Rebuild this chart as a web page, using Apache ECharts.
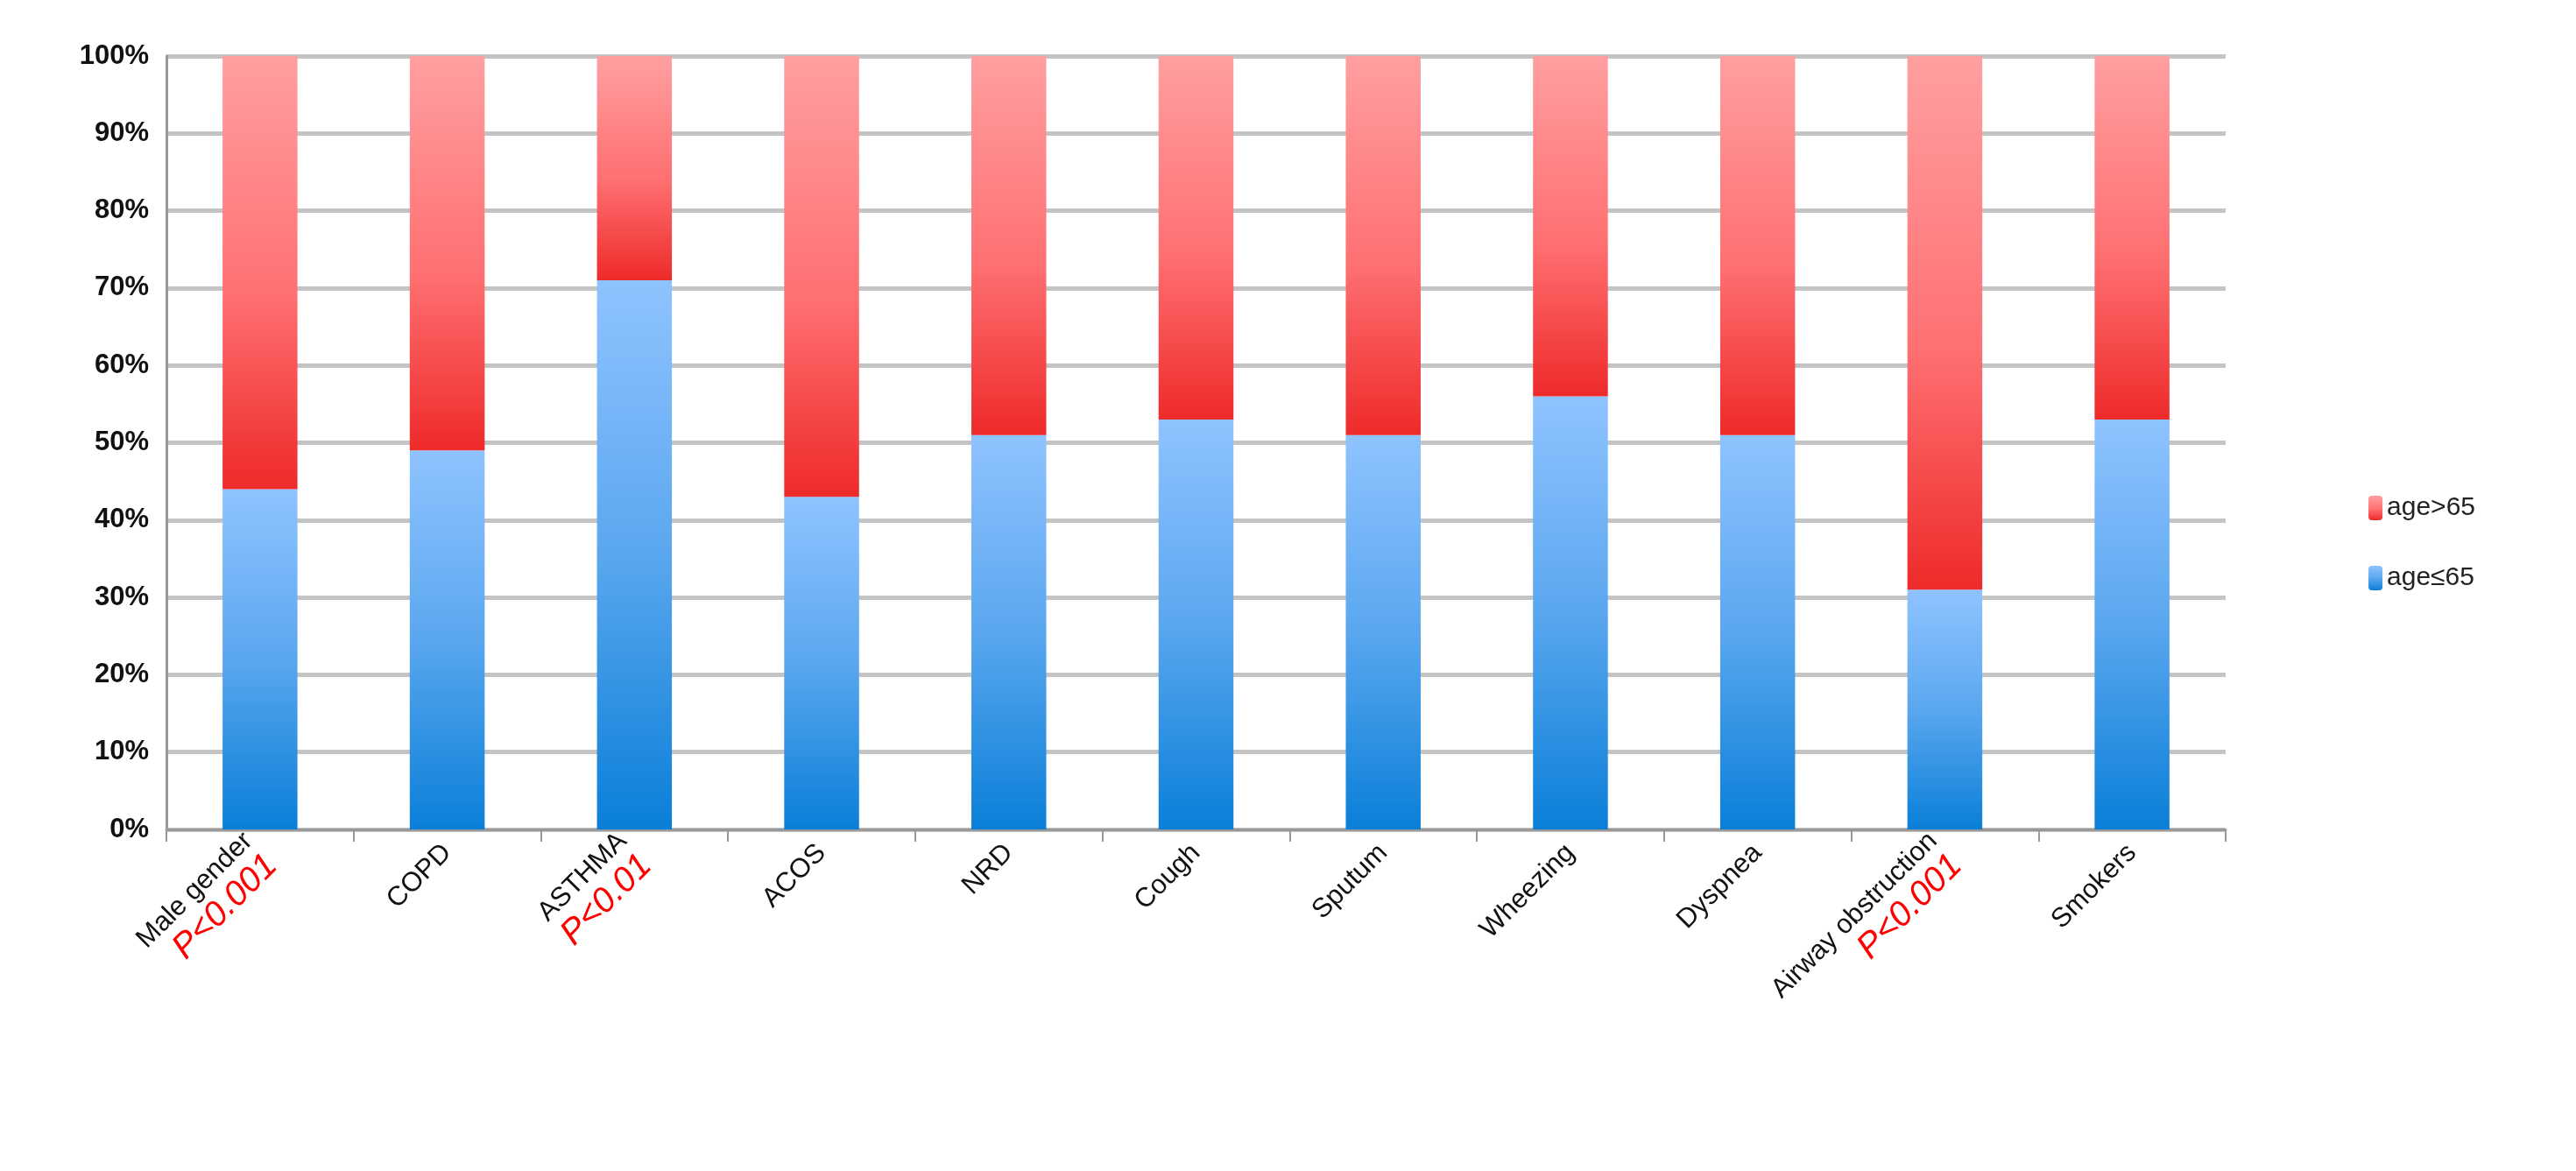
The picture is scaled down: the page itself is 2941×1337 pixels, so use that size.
<!DOCTYPE html>
<html><head><meta charset="utf-8">
<script src="https://cdn.jsdelivr.net/npm/echarts@6/dist/echarts.min.js"></script>
<style>html,body{margin:0;padding:0;background:#fff}#c{width:2941px;height:1337px}</style>
</head><body><div id="c"></div>
<script>
const categories = ['Male gender','COPD','ASTHMA','ACOS','NRD','Cough','Sputum','Wheezing','Dyspnea','Airway obstruction','Smokers'];
const pValues = ['P<0.001','','P<0.01','','','','','','','P<0.001',''];
const young = [44,49,71,43,51,53,51,56,51,31,53];
const old = young.map(v => 100 - v);
const yTicks = [0,10,20,30,40,50,60,70,80,90,100];

const chart = echarts.init(document.getElementById('c'));
const blue = new echarts.graphic.LinearGradient(0,0,0,1,[{offset:0,color:'#8fc3ff'},{offset:0.5,color:'#5aa7ef'},{offset:1,color:'#0a7fd8'}]);
const red = new echarts.graphic.LinearGradient(0,0,0,1,[{offset:0,color:'#ff9fa0'},{offset:0.55,color:'#ff7072'},{offset:1,color:'#ee2a2a'}]);
chart.setOption({
  animation:false,
  grid:{left:190,right:400,top:64,bottom:390},
  legend:{orient:'vertical',right:110,top:560,itemGap:50,itemWidth:16,itemHeight:28,
    textStyle:{fontSize:30,fontFamily:'Liberation Sans',color:'#222'},
    data:['age>65','age≤65']},
  xAxis:{type:'category',data:categories,
    axisLine:{lineStyle:{color:'#999',width:3}},axisTick:{show:true,lineStyle:{color:'#999',width:2},length:14},
    axisLabel:{rotate:45,interval:0,margin:22,fontSize:31,fontFamily:'Liberation Sans',color:'#111',lineHeight:38,
      formatter:(v,i)=> pValues[i] ? v+'\n{p|'+pValues[i]+'}' : v,
      rich:{p:{color:'#ff0000',fontSize:40,fontStyle:'italic',fontFamily:'Liberation Sans'}}}},
  yAxis:{type:'value',min:0,max:100,interval:10,
    axisLabel:{formatter:v=>v+'%',fontSize:31,fontWeight:'bold',fontFamily:'Liberation Sans',color:'#111',margin:20},
    axisLine:{show:true,lineStyle:{color:'#999',width:3}},
    splitLine:{lineStyle:{color:'#c4c4c4',width:5}}},
  series:[
    {name:'age≤65',type:'bar',stack:'a',data:young,barWidth:'40%',itemStyle:{color:blue},emphasis:{disabled:true}},
    {name:'age>65',type:'bar',stack:'a',data:old,barWidth:'40%',itemStyle:{color:red},emphasis:{disabled:true}}
  ]
});
</script></body></html>
